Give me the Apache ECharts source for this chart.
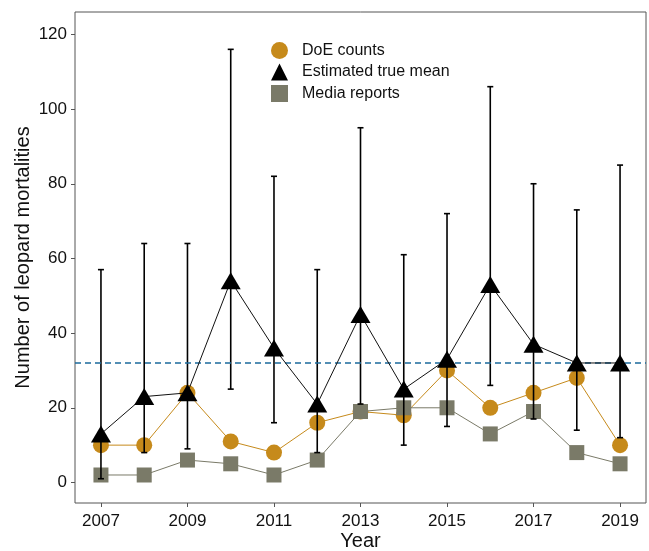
<!DOCTYPE html>
<html>
<head>
<meta charset="utf-8">
<script src="https://cdn.jsdelivr.net/npm/echarts@6/dist/echarts.min.js"></script>
<style>
  html, body { margin: 0; padding: 0; background: #fff; }
  #chart { width: 649px; height: 551px; }
</style>
</head>
<body>
<div id="chart"></div>
<script>
// Annual leopard mortalities, 2007-2019
const years = [2007, 2008, 2009, 2010, 2011, 2012, 2013, 2014, 2015, 2016, 2017, 2018, 2019];
const doeCounts = [10, 10, 24, 11, 8, 16, 19, 18, 30, 20, 24, 28, 10];
const estMean = [13, 23, 24, 54, 36, 21, 45, 25, 33, 53, 37, 32, 32];
const estLower = [1, 8, 9, 25, 16, 8, 21, 10, 15, 26, 17, 14, 12];
const estUpper = [57, 64, 64, 116, 82, 57, 95, 61, 72, 106, 80, 73, 85];
const mediaReports = [2, 2, 6, 5, 2, 6, 19, 20, 20, 13, 19, 8, 5];
const referenceLevel = 32;
const xTickYears = [2007, 2009, 2011, 2013, 2015, 2017, 2019];
const yTickValues = [0, 20, 40, 60, 80, 100, 120];

const GOLD = '#c68a1b';
const OLIVE = '#7a7a68';
const FONT = 'Liberation Sans';

const pairs = (ys) => years.map((yr, i) => [yr, ys[i]]);
const barData = years.map((yr, i) => [yr, estLower[i], estUpper[i]]);

const chart = echarts.init(document.getElementById('chart'), null, { renderer: 'canvas' });

chart.setOption({
  animation: false,
  backgroundColor: '#fff',
  textStyle: { fontFamily: FONT },
  grid: {
    left: 75, right: 3, top: 12, bottom: 48,
    outerBoundsMode: 'none', containLabel: false,
    show: true, borderColor: '#555', borderWidth: 1, backgroundColor: 'transparent'
  },
  legend: {
    orient: 'vertical',
    left: 266, top: 37,
    itemWidth: 17, itemHeight: 17, itemGap: 4.5,
    textStyle: { fontFamily: FONT, fontSize: 16, color: '#111', padding: [0, 0, 0, 9] },
    data: [
      { name: 'DoE counts', icon: 'circle' },
      { name: 'Estimated true mean', icon: 'triangle' },
      { name: 'Media reports', icon: 'rect' }
    ]
  },
  xAxis: {
    type: 'value',
    min: 2006.4, max: 2019.6,
    name: 'Year', nameLocation: 'middle', nameGap: 28,
    nameMoveOverlap: false,
    nameTextStyle: { fontFamily: FONT, fontSize: 20, color: '#111' },
    axisLine: { show: false, onZero: false },
    splitLine: { show: false },
    axisTick: { show: true, length: 4, lineStyle: { color: '#555' }, customValues: xTickYears },
    axisLabel: { fontFamily: FONT, fontSize: 17, color: '#111', margin: 10, customValues: xTickYears,
      formatter: (v) => String(v) }
  },
  yAxis: {
    type: 'value',
    min: -5.5, max: 126,
    name: 'Number of leopard mortalities', nameLocation: 'middle', nameGap: 42,
    nameMoveOverlap: false,
    nameTextStyle: { fontFamily: FONT, fontSize: 20, color: '#111' },
    axisLine: { show: false, onZero: false },
    splitLine: { show: false },
    axisTick: { show: true, length: 4, lineStyle: { color: '#555' }, customValues: yTickValues },
    axisLabel: { fontFamily: FONT, fontSize: 17, color: '#111', margin: 8, customValues: yTickValues }
  },
  series: [
    {
      name: 'DoE counts', type: 'line', z: 2,
      data: pairs(doeCounts),
      symbol: 'circle', symbolSize: 16,
      lineStyle: { color: GOLD, width: 1 },
      itemStyle: { color: GOLD },
      markLine: {
        silent: true, symbol: 'none', label: { show: false },
        lineStyle: { color: '#1b6a9c', type: [6, 4], width: 1.5 },
        data: [{ yAxis: referenceLevel }]
      }
    },
    {
      name: 'Media reports', type: 'line', z: 3,
      data: pairs(mediaReports),
      symbol: 'rect', symbolSize: 15,
      lineStyle: { color: OLIVE, width: 1 },
      itemStyle: { color: OLIVE }
    },
    {
      name: 'Estimated true mean', type: 'line', z: 5,
      data: pairs(estMean),
      symbol: 'triangle', symbolSize: [20, 17],
      lineStyle: { color: '#111', width: 1 },
      itemStyle: { color: '#000' }
    },
    {
      name: 'interval', type: 'custom', z: 4,
      data: barData,
      encode: { x: 0, y: [1, 2] },
      renderItem: function (params, api) {
        const x = api.value(0);
        const lo = api.coord([x, api.value(1)]);
        const hi = api.coord([x, api.value(2)]);
        const half = 3;
        const style = { stroke: '#000', lineWidth: 1.6 };
        return {
          type: 'group',
          children: [
            { type: 'line', shape: { x1: lo[0], y1: lo[1], x2: hi[0], y2: hi[1] }, style },
            { type: 'line', shape: { x1: lo[0] - half, y1: lo[1], x2: lo[0] + half, y2: lo[1] }, style },
            { type: 'line', shape: { x1: hi[0] - half, y1: hi[1], x2: hi[0] + half, y2: hi[1] }, style }
          ]
        };
      }
    }
  ]
});
</script>
</body>
</html>
